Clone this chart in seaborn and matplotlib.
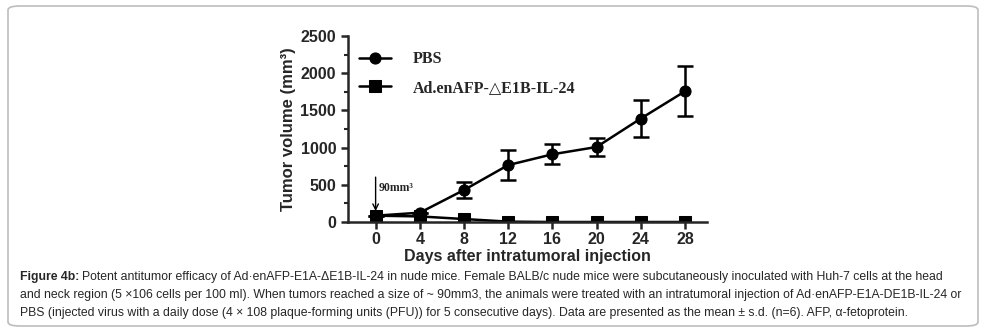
import pandas as pd
import matplotlib
matplotlib.use('Agg')
import matplotlib.pyplot as plt
import seaborn as sns
from matplotlib.patches import FancyBboxPatch
from matplotlib.ticker import MultipleLocator

# Data
days = [0, 4, 8, 12, 16, 20, 24, 28]
pbs_mean = [85, 125, 430, 765, 910, 1008, 1390, 1756]
pbs_sd = [0, 0, 108, 197, 135, 125, 245, 336]
ad_mean = [85, 75, 40, 5, 0, 0, 0, 0]
ad_sd = [0, 0, 0, 0, 0, 0, 0, 0]
labels = ['PBS', 'Ad.enAFP-\u25b3E1B-IL-24']

caption_lines = [
    "Potent antitumor efficacy of Ad\u00b7enAFP-E1A-\u0394E1B-IL-24 in nude mice. Female BALB/c nude mice were subcutaneously inoculated with Huh-7 cells at the head",
    "and neck region (5 \u00d7106 cells per 100 ml). When tumors reached a size of ~ 90mm3, the animals were treated with an intratumoral injection of Ad\u00b7enAFP-E1A-DE1B-IL-24 or",
    "PBS (injected virus with a daily dose (4 \u00d7 108 plaque-forming units (PFU)) for 5 consecutive days). Data are presented as the mean \u00b1 s.d. (n=6). AFP, \u03b1-fetoprotein.",
]

df = pd.DataFrame({
    'day': days * 2,
    'volume': pbs_mean + ad_mean,
    'group': [labels[0]] * len(days) + [labels[1]] * len(days),
})

sns.set_style('ticks')
plt.rcParams['font.family'] = ['Liberation Sans', 'DejaVu Sans']

fig = plt.figure(figsize=(9.84, 3.32), dpi=100)

# rounded frame around the whole figure
frame = FancyBboxPatch((8 / 984, 6 / 332), 970 / 984, 320 / 332,
                       boxstyle='round,pad=0,rounding_size=0.012',
                       transform=fig.transFigure, fill=False,
                       edgecolor='#bdbdbd', linewidth=1.2)
fig.patches.append(frame)

ax = fig.add_axes([348 / 984, 110 / 332, 359 / 984, 186 / 332])

sns.lineplot(data=df, x='day', y='volume', hue='group', style='group',
             markers={labels[0]: 'o', labels[1]: 's'}, dashes=False,
             palette={labels[0]: 'black', labels[1]: 'black'},
             markersize=8, linewidth=1.8, markeredgecolor='black', ax=ax)

ax.errorbar(days, pbs_mean, yerr=pbs_sd, fmt='none', ecolor='black',
            elinewidth=1.8, capsize=6, capthick=1.8)
ax.errorbar(days, ad_mean, yerr=ad_sd, fmt='none', ecolor='black',
            elinewidth=1.8, capsize=0)

ax.set_xlim(-2.5, 30)
ax.set_ylim(0, 2500)
ax.set_xticks(days)
ax.set_yticks([0, 500, 1000, 1500, 2000, 2500])
ax.yaxis.set_minor_locator(MultipleLocator(250))
sns.despine(ax=ax)
for s in ['left', 'bottom']:
    ax.spines[s].set_linewidth(1.8)
ax.tick_params(axis='both', width=1.8, length=5, labelsize=11.5)
ax.tick_params(axis='x', pad=2)
ax.tick_params(axis='y', which='minor', width=1.5, length=3)
for t in ax.get_xticklabels() + ax.get_yticklabels():
    t.set_fontweight('bold')

ax.set_xlabel('Days after intratumoral injection', fontsize=11.5, fontweight='bold', labelpad=2)
ax.set_ylabel('Tumor volume (mm\u00b3)', fontsize=12, fontweight='bold', labelpad=3)

leg = ax.legend(loc='upper left', bbox_to_anchor=(-0.01, 0.995), frameon=False,
                handlelength=2.0, handletextpad=1.4, labelspacing=0.8,
                prop={'family': ['Liberation Serif', 'DejaVu Sans'],
                      'weight': 'bold', 'size': 11.5})

ax.annotate('', xy=(0, 110), xytext=(0, 640),
            arrowprops=dict(arrowstyle='->', color='black', lw=1.0))
ax.text(0.3, 460, '90mm\u00b3', fontsize=8.5, fontweight='bold',
        family='Liberation Serif', va='center', ha='left')

# caption
cap_size = 8.85
y0 = 1 - 277 / 332
renderer = fig.canvas.get_renderer()
head = fig.text(20 / 984, y0, 'Figure 4b:', fontsize=cap_size, fontweight='bold',
                va='center', ha='left')
bb = head.get_window_extent(renderer=renderer)
fig.text(bb.x1 / fig.bbox.width + 3 / 984, y0, caption_lines[0], fontsize=cap_size,
         va='center', ha='left')
for i, line in enumerate(caption_lines[1:], start=1):
    fig.text(20 / 984, y0 - i * 18 / 332, line, fontsize=cap_size,
             va='center', ha='left')

fig.savefig('out.png', dpi=100)
